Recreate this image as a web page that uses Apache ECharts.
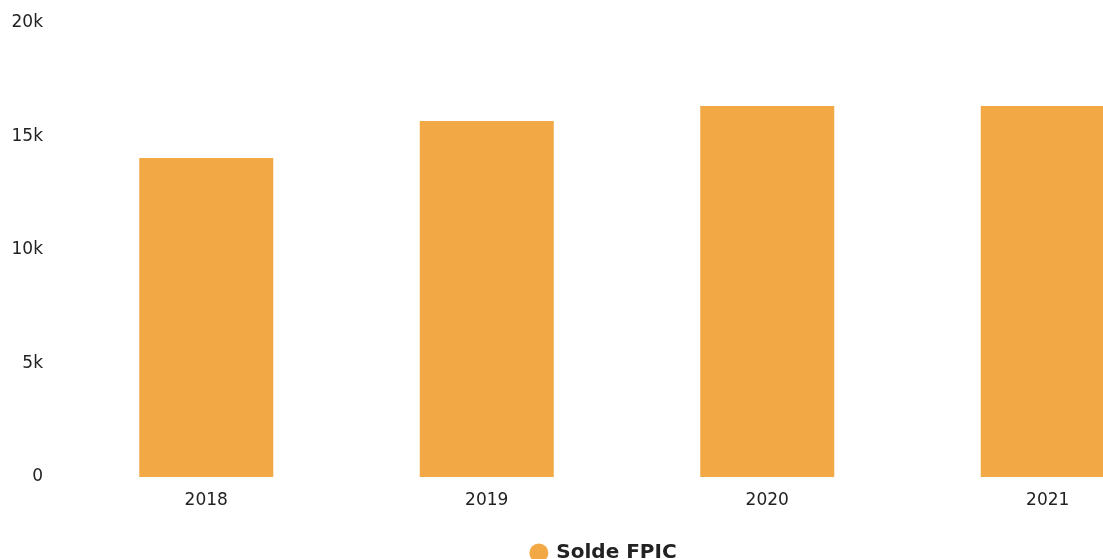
<!DOCTYPE html>
<html>
<head>
<meta charset="utf-8">
<title>Solde FPIC</title>
<script src="https://cdn.jsdelivr.net/npm/echarts@6/dist/echarts.min.js"></script>
<style>
	html, body { margin: 0; padding: 0; overflow: hidden; background: #fff; }
	#chart { width: 1206px; height: 559px; }
</style>
</head>
<body>
<div id="chart"></div>
<script type="text/javascript">
	var years = ['2018', '2019', '2020', '2021'];
	var soldeFpic = [14050, 15680, 16340, 16340];
	var yTicks = [0, 5000, 10000, 15000, 20000];

	var myChart = echarts.init(document.getElementById('chart'), null, { renderer: 'canvas' });
	var option = {
		animation: false,
		textStyle: { fontFamily: 'DejaVu Sans' },
		grid: {
			left: 66,
			right: 18,
			top: 23,
			bottom: 82
		},
		legend: {
			data: ['Solde FPIC'],
			left: 'center',
			top: 538,
			icon: 'circle',
			itemWidth: 19,
			itemHeight: 19,
			itemGap: 10,
			textStyle: {
				fontFamily: 'DejaVu Sans',
				fontWeight: 'bold',
				fontSize: 20,
				color: '#222',
				padding: [0, 0, 0, 3]
			}
		},
		xAxis: {
			type: 'category',
			data: years,
			axisLine: { show: false },
			axisTick: { show: false },
			axisLabel: {
				margin: 15,
				fontSize: 17,
				color: '#222',
				fontFamily: 'DejaVu Sans'
			}
		},
		yAxis: {
			type: 'value',
			min: yTicks[0],
			max: yTicks[yTicks.length - 1],
			interval: 5000,
			splitLine: { show: false },
			axisLine: { show: false },
			axisTick: { show: false },
			axisLabel: {
				margin: 23,
				fontSize: 17,
				color: '#222',
				fontFamily: 'DejaVu Sans',
				padding: [4, 0, 0, 0],
				formatter: function (v) {
					return v === 0 ? '0' : (v / 1000) + 'k';
				}
			}
		},
		series: [{
			name: 'Solde FPIC',
			type: 'bar',
			data: soldeFpic,
			barWidth: 134,
			itemStyle: { color: '#f2a945' }
		}]
	};
	myChart.setOption(option);
</script>
</body>
</html>
